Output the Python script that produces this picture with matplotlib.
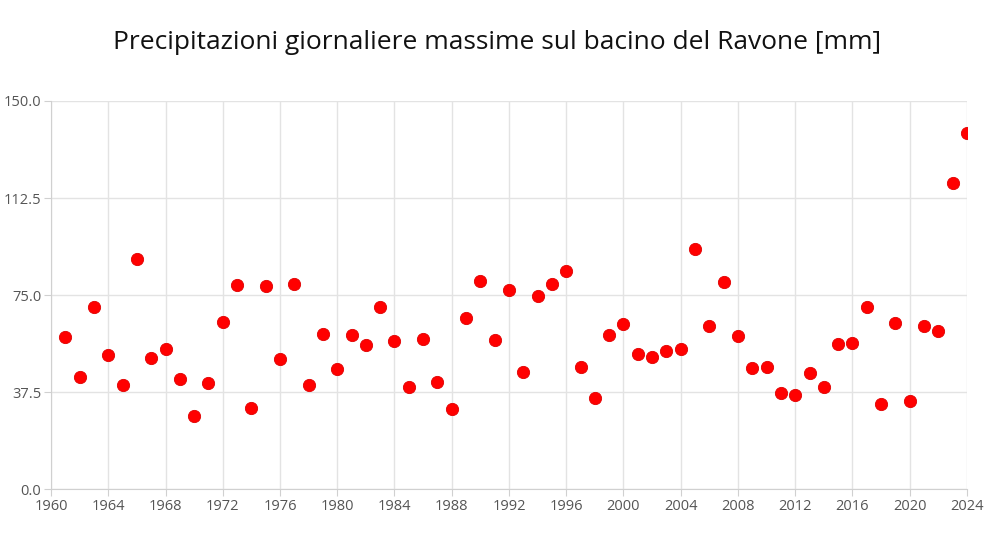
import matplotlib.pyplot as plt
import numpy as np

years = list(range(1961, 2025))
max_rain = [
    58.7, 43.4, 70.2, 52.0, 40.1, 88.9, 50.5, 54.1, 42.5, 28.4,
    40.9, 64.4, 78.7, 31.4, 78.5, 50.3, 79.1, 40.4, 59.9, 46.3,
    59.5, 55.6, 70.3, 57.2, 39.5, 58.1, 41.3, 31.0, 66.3, 80.3,
    57.7, 77.1, 45.3, 74.5, 79.3, 84.4, 47.2, 35.2, 59.4, 63.8,
    52.1, 51.2, 53.4, 54.3, 92.9, 62.9, 79.9, 59.2, 46.9, 47.0,
    37.2, 36.5, 45.0, 39.4, 56.0, 56.4, 70.2, 32.8, 64.3, 33.9,
    62.9, 61.1, 118.4, 137.5,
]
x_ticks = list(range(1960, 2025, 4))
y_ticks = [0, 37.5, 75, 112.5, 150]
title = "Precipitazioni giornaliere massime sul bacino del Ravone [mm]"

plt.rcParams["font.family"] = ["Open Sans", "DejaVu Sans"]

fig = plt.figure(figsize=(10.08, 5.51), dpi=100)
ax = fig.add_axes([0.0506, 0.1125, 0.9087, 0.7042])

ax.scatter(years, max_rain, s=78, color="#ff0000", edgecolors="#e00000",
           linewidths=0.6, zorder=3)

ax.set_xlim(1960, 2024)
ax.set_ylim(0, 150)
ax.set_xticks(x_ticks)
ax.set_yticks(y_ticks)
ax.set_yticklabels([f"{v:.1f}" for v in y_ticks])

ax.grid(True, color="#e3e3e3", linewidth=1)
ax.set_axisbelow(True)
for side in ["top", "right"]:
    ax.spines[side].set_visible(False)
for side in ["left", "bottom"]:
    ax.spines[side].set_color("#d0d0d0")
ax.tick_params(colors="#d0d0d0", labelcolor="#555555", labelsize=10.5,
               length=5, pad=2)

fig.text(0.493, 0.922, title, ha="center", va="center", fontsize=19,
         color="#111111")

fig.savefig("out.png", dpi=100)
